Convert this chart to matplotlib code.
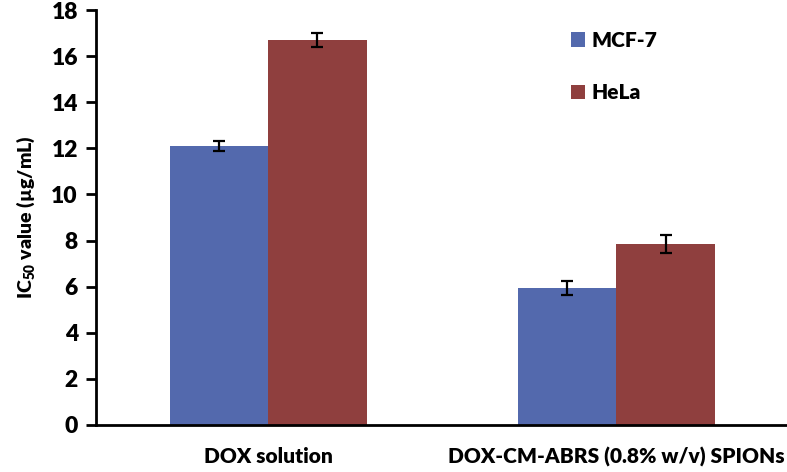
import numpy as np
import matplotlib.pyplot as plt

plt.rcParams['font.family'] = ['Lato', 'DejaVu Sans']
plt.rcParams['font.weight'] = 'heavy'
plt.rcParams['mathtext.fontset'] = 'custom'
plt.rcParams['mathtext.rm'] = 'Lato:heavy'
plt.rcParams['mathtext.bf'] = 'Lato:heavy'

categories = ['DOX solution', 'DOX-CM-ABRS (0.8% w/v) SPIONs']
mcf7 = [12.1, 5.95]
mcf7_err = [0.22, 0.3]
hela = [16.7, 7.85]
hela_err = [0.3, 0.4]

fig = plt.figure(figsize=(7.87, 4.72), dpi=100)
ax = fig.add_axes([0.122, 0.0996, 0.878, 0.8792])

x = np.arange(len(categories))
w = 0.283
err_kw = dict(ecolor='black', elinewidth=1.6, capsize=4.5, capthick=1.6)
ax.bar(x - w / 2, mcf7, w, yerr=mcf7_err, color='#5369ad', label='MCF-7', error_kw=err_kw)
ax.bar(x + w / 2, hela, w, yerr=hela_err, color='#8f3f3e', label='HeLa', error_kw=err_kw)

ax.set_xlim(-0.494, 1.49)
ax.set_ylim(0, 18)
ax.set_yticks(np.arange(0, 19, 2))
ax.set_xticks(x)
ax.set_xticklabels(categories, fontsize=15, fontweight='heavy')
ax.tick_params(axis='x', length=0, pad=16)
ax.tick_params(axis='y', direction='out', length=7, width=2, labelsize=16.5, pad=6)
for lab in ax.get_yticklabels():
    lab.set_fontweight('heavy')

for s in ['top', 'right']:
    ax.spines[s].set_visible(False)
ax.spines['left'].set_linewidth(2)
ax.spines['bottom'].set_linewidth(2)

ax.set_ylabel(r'IC$_{50}$ value (µg/mL)', fontsize=14, fontweight='heavy', labelpad=10)

ax.legend(loc='upper left', bbox_to_anchor=(0.66, 0.995), frameon=False,
          prop={'size': 15, 'weight': 'heavy'}, labelspacing=1.6,
          handlelength=0.7, handleheight=0.7, handletextpad=0.3)

fig.savefig('out.png', dpi=100)
